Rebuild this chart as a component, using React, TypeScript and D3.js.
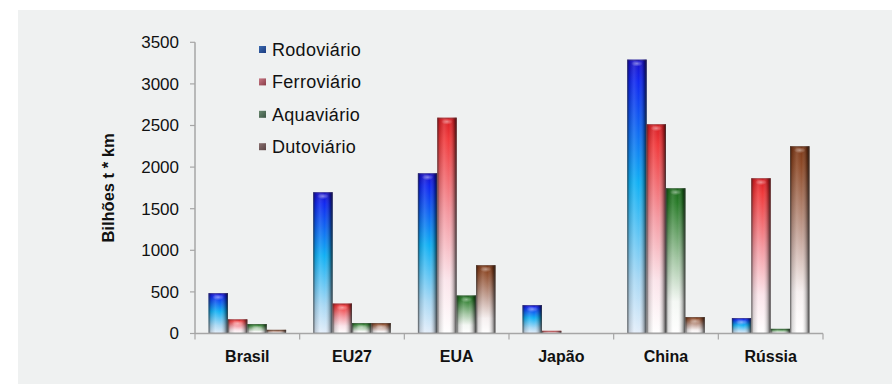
import React from "react";
import * as d3 from "d3";

const categories = ["Brasil", "EU27", "EUA", "Japão", "China", "Rússia"];
const seriesNames = ["Rodoviário", "Ferroviário", "Aquaviário", "Dutoviário"];
const rodoviario = [485, 1698, 1926, 341, 3292, 185];
const ferroviario = [170, 360, 2594, 32, 2515, 1866];
const aquaviario = [113, 125, 457, 0, 1746, 56];
const dutoviario = [44, 125, 821, 0, 197, 2251];
const yTicks = [0, 500, 1000, 1500, 2000, 2500, 3000, 3500];

const seriesValues = [rodoviario, ferroviario, aquaviario, dutoviario];

// vertical colour ramps for each transport mode (top -> bottom)
const ramps: [number, string][][] = [
  [[0, "#1a10c8"], [0.08, "#1028f0"], [0.45, "#10b0f4"], [0.8, "#a8d8f4"], [1, "#e4eefa"]],
  [[0, "#d81c22"], [0.1, "#f03a3c"], [0.45, "#f49aa2"], [0.75, "#fbe4ea"], [1, "#ffffff"]],
  [[0, "#1c6a1c"], [0.1, "#2a7c2a"], [0.5, "#a6c8a6"], [0.78, "#f4f8f4"], [1, "#ffffff"]],
  [[0, "#7a3616"], [0.1, "#8e4a28"], [0.5, "#c8aaa0"], [0.78, "#f6f0f0"], [1, "#ffffff"]],
];
const legendSwatch = [
  ["#3a6ab0", "#1c3c80"],
  ["#c87884", "#8a3c48"],
  ["#6a8a70", "#3c5444"],
  ["#8a7070", "#5a4444"],
];

const W = 892;
const H = 384;
const left = 195;
const right = 823;
const y0 = 333.5;
const yTop = 42.3;

export default function App() {
  const x = d3.scaleBand<string>().domain(categories).range([left, right]).padding(0);
  const xs = d3
    .scaleBand<string>()
    .domain(seriesNames)
    .range([0, x.bandwidth()])
    .paddingInner(0)
    .paddingOuter(0.7);
  const y = d3.scaleLinear().domain([0, 3500]).range([y0, yTop]);

  const font = "'Liberation Sans', Arial, Helvetica, sans-serif";

  return (
    <svg
      width={W}
      height={H}
      style={{ position: "absolute", left: 0, top: 0, display: "block" }}
      fontFamily={font}
    >
      <defs>
        {ramps.map((r, i) => (
          <linearGradient key={i} id={`v${i}`} x1="0" y1="0" x2="0" y2="1">
            {r.map(([o, c], j) => (
              <stop key={j} offset={o} stopColor={c} />
            ))}
          </linearGradient>
        ))}
        <linearGradient id="shade" x1="0" y1="0" x2="1" y2="0">
          <stop offset="0" stopColor="#000" stopOpacity={0.5} />
          <stop offset="0.12" stopColor="#000" stopOpacity={0.14} />
          <stop offset="0.35" stopColor="#fff" stopOpacity={0.12} />
          <stop offset="0.6" stopColor="#fff" stopOpacity={0.0} />
          <stop offset="0.85" stopColor="#000" stopOpacity={0.28} />
          <stop offset="1" stopColor="#000" stopOpacity={0.72} />
        </linearGradient>
        <radialGradient id="glint" cx="0.5" cy="0.5" r="0.5">
          <stop offset="0" stopColor="#fff" stopOpacity={0.45} />
          <stop offset="1" stopColor="#fff" stopOpacity={0} />
        </radialGradient>
        {legendSwatch.map((c, i) => (
          <linearGradient key={i} id={`l${i}`} x1="0" y1="0" x2="1" y2="1">
            <stop offset="0" stopColor={c[0]} />
            <stop offset="1" stopColor={c[1]} />
          </linearGradient>
        ))}
      </defs>

      <rect x={0} y={0} width={W} height={H} fill="#ffffff" />
      <rect x={18} y={10} width={W - 18} height={H - 10} fill="#eff1f1" />

      {/* bars */}
      {categories.map((cat, ci) => (
        <g key={cat} transform={`translate(${x(cat)},0)`}>
          {seriesNames.map((s, si) => {
            const v = seriesValues[si][ci];
            if (v <= 0) return null;
            const bx = xs(s)!;
            const bw = xs.bandwidth();
            const by = y(v);
            const bh = y0 - by;
            return (
              <g key={s}>
                <rect x={bx} y={by} width={bw} height={bh} fill={`url(#v${si})`} />
                <rect x={bx} y={by} width={bw} height={bh} fill="url(#shade)" />
                {bh > 8 && (
                  <ellipse
                    cx={bx + bw / 2}
                    cy={by + 4}
                    rx={bw * 0.3}
                    ry={3}
                    fill="url(#glint)"
                  />
                )}
                <rect
                  x={bx + 0.5}
                  y={by + 0.5}
                  width={bw - 1}
                  height={Math.max(bh - 1, 0)}
                  fill="none"
                  stroke="#555"
                  strokeOpacity={0.4}
                />
              </g>
            );
          })}
        </g>
      ))}

      {/* y axis */}
      <line x1={left} x2={left} y1={yTop} y2={y0} stroke="#a6a6a6" strokeWidth={1.5} />
      {yTicks.map((t) => (
        <g key={t} transform={`translate(0,${y(t)})`}>
          <line x1={190} x2={left} stroke="#a6a6a6" strokeWidth={1.2} />
          <text
            x={179}
            dy="0.35em"
            textAnchor="end"
            fontSize={17}
            fill="#111"
          >
            {t}
          </text>
        </g>
      ))}

      {/* x axis */}
      <line x1={left} x2={right} y1={y0} y2={y0} stroke="#a6a6a6" strokeWidth={1.5} />
      {[...categories.map((c) => x(c)!), right].map((p, i) => (
        <line key={i} x1={p} x2={p} y1={y0} y2={y0 + 6} stroke="#a6a6a6" strokeWidth={1.2} />
      ))}
      {categories.map((c) => (
        <text
          key={c}
          x={x(c)! + x.bandwidth() / 2}
          y={362}
          textAnchor="middle"
          fontSize={16}
          fontWeight="bold"
          fill="#111"
        >
          {c}
        </text>
      ))}

      <text
        transform={`translate(114,188) rotate(-90)`}
        textAnchor="middle"
        fontSize={16.5}
        fontWeight="bold"
        fill="#111"
      >
        Bilhões t * km
      </text>

      {/* legend */}
      {seriesNames.map((s, i) => (
        <g key={s} transform={`translate(259,${46 + i * 32.4})`}>
          <rect x={0} y={0} width={7} height={7} fill={`url(#l${i})`} />
          <text x={13} y={10} fontSize={18} letterSpacing={0.3} fill="#111">
            {s}
          </text>
        </g>
      ))}
    </svg>
  );
}
